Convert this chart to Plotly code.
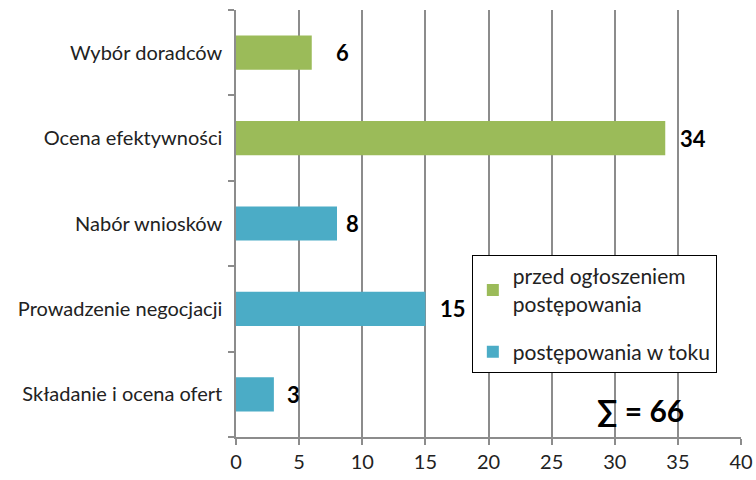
import plotly.graph_objects as go

categories = ["Wybór doradców", "Ocena efektywności", "Nabór wniosków",
              "Prowadzenie negocjacji", "Składanie i ocena ofert"]
group_before = ["Wybór doradców", "Ocena efektywności"]
values_before = [6, 34]
group_during = ["Nabór wniosków", "Prowadzenie negocjacji", "Składanie i ocena ofert"]
values_during = [8, 15, 3]
name_before = "przed ogłoszeniem<br>postępowania"
name_during = "postępowania w toku"
total_label = "∑ = 66"
x_ticks = [0, 5, 10, 15, 20, 25, 30, 35, 40]

GREEN = "#9BBB59"
BLUE = "#4BACC6"
FONT = "Lato"

fig = go.Figure()
fig.add_trace(go.Bar(y=group_before, x=values_before, orientation="h",
                     name=name_before, legendgroup="a",
                     marker=dict(color=GREEN, line=dict(width=0)), width=0.4))
fig.add_trace(go.Bar(y=group_during, x=values_during, orientation="h",
                     name=name_during, legendgroup="b",
                     marker=dict(color=BLUE, line=dict(width=0)), width=0.4))

label_shift = [22, 13, 7, 13, 11]
all_vals = dict(zip(group_before + group_during, values_before + values_during))
for cat, sh in zip(categories, label_shift):
    v = all_vals[cat]
    fig.add_annotation(x=v, y=cat, text=f"<b>{v}</b>", showarrow=False,
                       xanchor="left", xshift=sh,
                       font=dict(family=FONT, size=22, color="black"))

fig.add_annotation(x=0.711, y=0.063, xref="paper", yref="paper",
                   xanchor="left", yanchor="middle",
                   text=f"<b>{total_label}</b>", showarrow=False,
                   font=dict(family=FONT, size=30, color="black"))

fig.update_layout(
    width=756, height=480,
    margin=dict(l=236, r=15, t=10, b=43),
    paper_bgcolor="white", plot_bgcolor="white",
    barmode="relative",
    font=dict(family=FONT, size=20, color="#222"),
    legend=dict(x=0.467, y=0.426, xanchor="left", yanchor="top",
                bgcolor="white", bordercolor="black", borderwidth=1,
                font=dict(family=FONT, size=21, color="#222"),
                tracegroupgap=18, itemsizing="constant"),
    xaxis=dict(range=[0, 40], tickvals=x_ticks, showgrid=True, automargin=False,
               gridcolor="#8C8C8C", gridwidth=1.5, zeroline=False,
               showline=True, linecolor="#8C8C8C", linewidth=1.5,
               ticks="outside", ticklen=6, tickcolor="#8C8C8C", tickwidth=1.5,
               tickfont=dict(family=FONT, size=20, color="#222")),
    yaxis=dict(categoryorder="array", categoryarray=categories[::-1],
               tickson="boundaries", ticks="outside", ticklen=6, automargin=False,
               tickcolor="#8C8C8C", tickwidth=1.5,
               showline=True, linecolor="#8C8C8C", linewidth=1.5,
               showgrid=False, ticklabelstandoff=8,
               tickfont=dict(family=FONT, size=20, color="#222")),
)

fig.write_html("out.html", config={"displayModeBar": False},
               post_script="document.body.style.margin='0';document.body.style.overflow='hidden';")
